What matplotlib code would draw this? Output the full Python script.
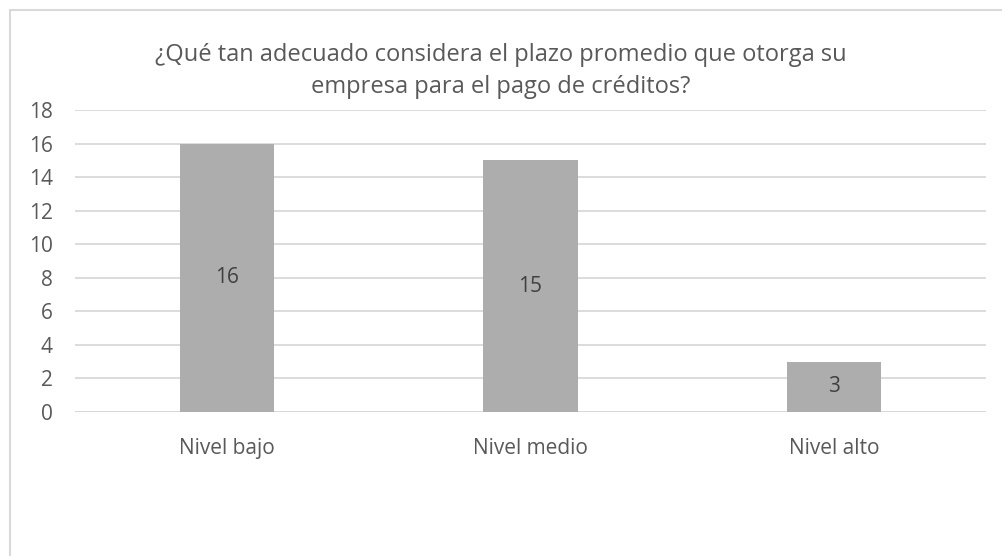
import matplotlib.pyplot as plt
from matplotlib.patches import Rectangle

plt.rcParams['font.family'] = ['Open Sans', 'DejaVu Sans']

# Survey results
categories = ['Nivel bajo', 'Nivel medio', 'Nivel alto']
counts = [16, 15, 3]
y_ticks = [0, 2, 4, 6, 8, 10, 12, 14, 16, 18]

text_color = '#595959'
bar_color = '#ADADAD'
grid_color = '#D9D9D9'

fig = plt.figure(figsize=(10.02, 5.56), dpi=100)
ax = fig.add_axes([75 / 1002, 144 / 556, 911 / 1002, 302 / 556])

# Chart frame (top and left edges visible)
fig.patches.append(Rectangle((10 / 1002, -0.1), 1.2, (546 / 556) + 0.1,
                             transform=fig.transFigure, fill=False,
                             edgecolor='#D9D9D9', linewidth=1.5))

x = range(len(categories))
bars = ax.bar(x, counts, width=0.31, color=bar_color, zorder=2)

for b, v in zip(bars, counts):
    ax.text(b.get_x() + b.get_width() / 2, v / 2, str(v),
            ha='center', va='center', fontsize=15, color='#404040')

ax.set_xlim(-0.5, 2.5)
ax.set_ylim(0, 18)
ax.set_yticks(y_ticks)
ax.set_xticks(list(x))
ax.set_xticklabels(categories)
ax.yaxis.grid(True, color=grid_color, linewidth=1.3, zorder=0)
ax.tick_params(axis='both', length=0, labelsize=15, colors=text_color)
ax.tick_params(axis='x', pad=19)
ax.tick_params(axis='y', pad=16)
for s in ax.spines.values():
    s.set_visible(False)
ax.axhline(0, color=grid_color, linewidth=1.3, zorder=1)

fig.text(0.5, 1 - 71 / 556,
         '¿Qué tan adecuado considera el plazo promedio que otorga su\n'
         'empresa para el pago de créditos?',
         ha='center', va='center', fontsize=17, color=text_color,
         linespacing=1.45)

fig.savefig('out.png', dpi=100)
